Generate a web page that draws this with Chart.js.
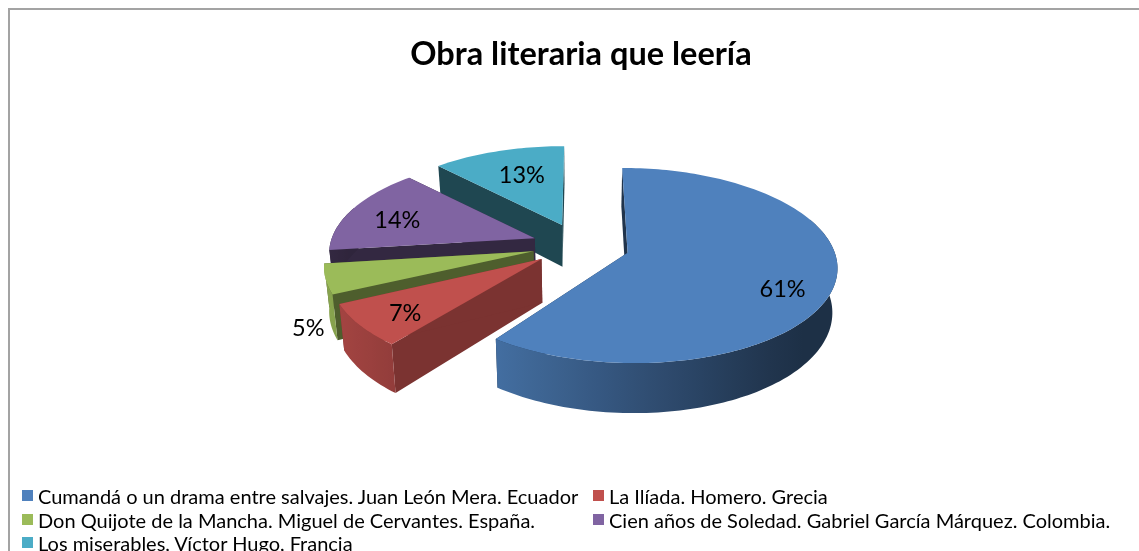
<!DOCTYPE html>
<html lang="es">
<head>
<meta charset="utf-8">
<title>Obra literaria que leería</title>
<script src="https://cdn.jsdelivr.net/npm/chart.js@4"></script>
<style>
  html, body { margin: 0; padding: 0; background: #fff; overflow: hidden; }
  #wrap { position: relative; width: 1139px; height: 551px; overflow: hidden; }
  #frame { position: absolute; left: 8px; top: 8px; width: 1300px; height: 800px; border: 2px solid #a3a3a3; }
  canvas { position: absolute; left: 0; top: 0; }
  .legend-item { position: absolute; font: 20px Lato, sans-serif; color: #000; white-space: nowrap; line-height: 24px; }
  .legend-box { position: absolute; left: -16px; top: 6px; width: 11px; height: 11px; }
</style>
</head>
<body>
<div id="wrap">
  <div id="frame"></div>
  <canvas id="chart" width="1139" height="551"></canvas>
  <div id="legend"></div>
</div>
<script>
// Chart data
const titleText = "Obra literaria que leería";
const books = [
  "Cumandá o un drama entre salvajes. Juan León Mera. Ecuador",
  "La Ilíada. Homero. Grecia",
  "Don Quijote de la Mancha. Miguel de Cervantes. España.",
  "Cien años de Soledad. Gabriel García Márquez. Colombia.",
  "Los miserables, Víctor Hugo, Francia",
];
const percents = [61, 7, 5, 14, 13];
const sliceColors = ["#4F81BD", "#C0504D", "#9BBB59", "#8064A2", "#4BACC6"];

// How dark the cut faces and the round wall of each slice are
const edgeShade = [0.4, 0.64, 0.5, 0.4, 0.41];
const rimShade = [0.85, 0.85, 0.88, 0.4, 0.41];

// Where each % label sits: fraction of the radius, then a small nudge in px
const labelRadius = [0.76, 0.76, 1.08, 0.74, 0.66];
const labelNudge = [[0, 11], [0, 6], [0, 47], [0, 3], [7, 0]];

// Fake 3D view settings
const squash = 0.458; // vertical flattening of the disc
const tilt = 0.13; // perspective strength
const depth = 43; // wall height in px
const shrink = 0.98; // bottom of the pie is a bit narrower
const sliceWarp = [0.06, 0.02, 0, 0.045, 0.06]; // diagonals lean to the vertical axis in the view

function shade(hex, f) {
  const n = parseInt(hex.slice(1), 16);
  const r = Math.round(((n >> 16) & 255) * f);
  const g = Math.round(((n >> 8) & 255) * f);
  const b = Math.round((n & 255) * f);
  return `rgb(${r},${g},${b})`;
}

// Project a point of the flat pie (px from centre) on the tilted view
function project(el, dx, dy, low) {
  const R = el.outerRadius;
  const u = dx / R;
  const v = dy / R;
  const k = 1 / (1 - tilt * v);
  let x = R * u * k;
  let y = R * squash * v * k;
  if (low) {
    x *= shrink;
    y += depth * k;
  }
  return { x: el.x + x, y: el.y + y };
}

function warpAngle(a, warp) {
  return a - warp * Math.pow(Math.sin(2 * (a - Math.PI / 2)), 3);
}

function slicePoints(el, index, low) {
  const offset = el.options.offset || 0;
  const mid = (el.startAngle + el.endAngle) / 2;
  const ox = offset * Math.cos(mid);
  const oy = offset * Math.sin(mid);
  const rim = [];
  const steps = Math.max(4, Math.ceil((el.endAngle - el.startAngle) * 40));
  for (let i = 0; i <= steps; i++) {
    const a = warpAngle(el.startAngle + ((el.endAngle - el.startAngle) * i) / steps, sliceWarp[index]);
    rim.push(project(el, ox + el.outerRadius * Math.cos(a), oy + el.outerRadius * Math.sin(a), low));
  }
  return { apex: project(el, ox, oy, low), rim: rim };
}

function fillPoly(ctx, pts, fill) {
  ctx.beginPath();
  pts.forEach(function (p, i) {
    if (i === 0) ctx.moveTo(p.x, p.y);
    else ctx.lineTo(p.x, p.y);
  });
  ctx.closePath();
  ctx.fillStyle = fill;
  ctx.fill();
}

function drawSlice(ctx, el, index) {
  const color = el.options.backgroundColor;
  const top = slicePoints(el, index, false);
  const low = slicePoints(el, index, true);
  const last = top.rim.length - 1;
  const cut = shade(color, edgeShade[index]);

  // cut faces
  fillPoly(ctx, [top.apex, top.rim[0], low.rim[0], low.apex], cut);
  fillPoly(ctx, [top.apex, top.rim[last], low.rim[last], low.apex], cut);

  // round outer wall, only the part turned to the viewer
  const front = [];
  top.rim.forEach(function (p, i) {
    const a = el.startAngle + ((el.endAngle - el.startAngle) * i) / last;
    if (Math.sin(a) > -0.35) front.push(i);
  });
  if (front.length > 1) {
    const xs = front.map(function (i) { return top.rim[i].x; });
    const left = Math.min.apply(null, xs);
    const right = Math.max.apply(null, xs);
    const grad = ctx.createLinearGradient(left, 0, right, 0);
    for (let s = 0; s <= 10; s++) {
      const run = ((right - left) * s) / 10;
      const f = Math.max(0.37, rimShade[index] - 0.48 * Math.min(1, run / 300));
      grad.addColorStop(s / 10, shade(color, f));
    }
    const wall = front.map(function (i) { return top.rim[i]; });
    front.slice().reverse().forEach(function (i) { wall.push(low.rim[i]); });
    fillPoly(ctx, wall, grad);
  }

  // top face
  fillPoly(ctx, [top.apex].concat(top.rim), color);
}

const pie3dPlugin = {
  id: "pie3d",
  beforeDatasetDraw: function (chart, args) {
    const ctx = chart.ctx;
    const arcs = args.meta.data;
    // paint from the back of the pie to the front
    [4, 3, 2, 1, 0].forEach(function (i) {
      drawSlice(ctx, arcs[i], i);
    });
    return false;
  },
  afterDatasetsDraw: function (chart) {
    const ctx = chart.ctx;
    const arcs = chart.getDatasetMeta(0).data;
    ctx.save();
    ctx.font = "23.5px Lato, sans-serif";
    ctx.fillStyle = "#000";
    ctx.textAlign = "center";
    ctx.textBaseline = "middle";
    arcs.forEach(function (el, i) {
      const mid = (el.startAngle + el.endAngle) / 2;
      const r = el.outerRadius * labelRadius[i] + (el.options.offset || 0);
      const p = project(el, r * Math.cos(mid), r * Math.sin(mid), false);
      ctx.fillText(percents[i] + "%", p.x + labelNudge[i][0], p.y + labelNudge[i][1]);
    });
    ctx.restore();
  },
};

const chart = new Chart(document.getElementById("chart"), {
  type: "pie",
  data: {
    labels: books,
    datasets: [
      {
        data: percents,
        backgroundColor: sliceColors,
        borderWidth: 0,
        offset: 49,
      },
    ],
  },
  options: {
    responsive: false,
    animation: false,
    events: [],
    radius: 205,
    layout: { padding: { left: 23, right: 0, top: 0, bottom: 143 } },
    plugins: {
      legend: { display: false },
      tooltip: { enabled: false },
      title: {
        display: true,
        text: titleText,
        color: "#000",
        font: { family: "Lato, sans-serif", size: 32.5, weight: "bold" },
        padding: { top: 35, bottom: 8 },
      },
    },
  },
  plugins: [pie3dPlugin],
});

// HTML legend, two columns like the original
function buildLegend() {
  const holder = document.getElementById("legend");
  const columns = [38, 609];
  books.forEach(function (book, i) {
    const item = document.createElement("div");
    item.className = "legend-item";
    item.style.left = columns[i % 2] + "px";
    item.style.top = 484 + Math.floor(i / 2) * 23.5 + "px";
    item.textContent = book;
    const box = document.createElement("span");
    box.className = "legend-box";
    box.style.background = sliceColors[i];
    item.appendChild(box);
    holder.appendChild(item);
  });
}
buildLegend();
</script>
</body>
</html>
